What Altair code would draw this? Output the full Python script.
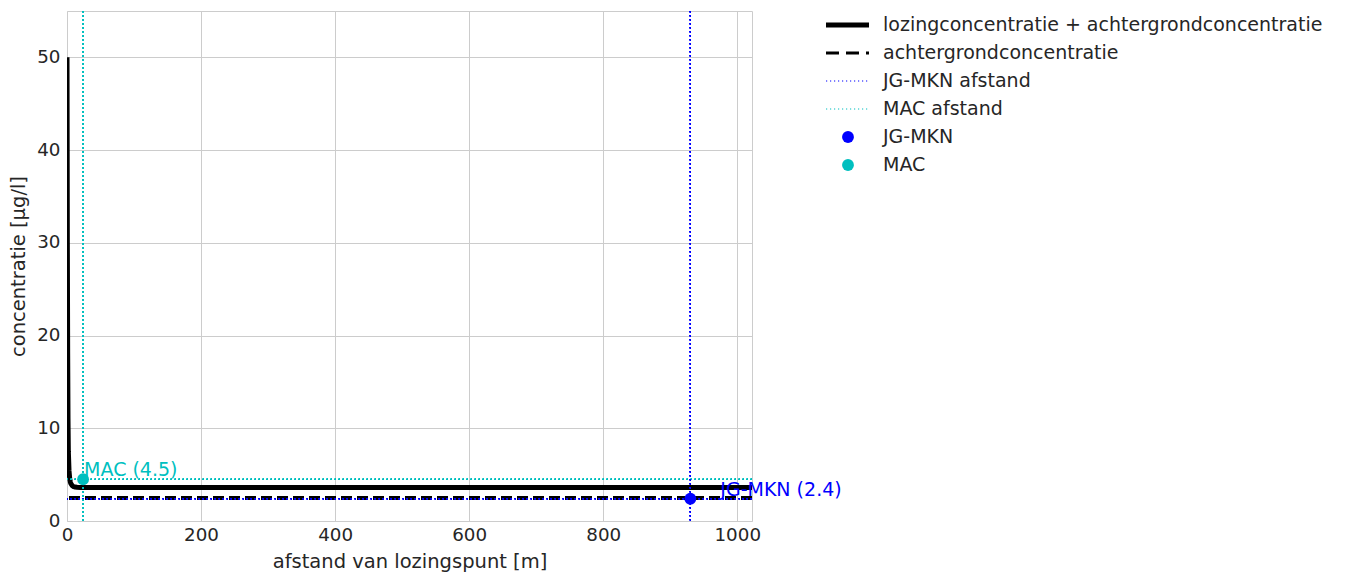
import altair as alt
import pandas as pd

# --- data ---
dist = [0, 0.5, 1, 1.5, 2, 3, 4, 5, 6, 8, 10, 12, 15, 20, 30, 50, 100, 200, 400, 600, 800, 1000, 1022]
conc = [50, 30, 18, 11, 7.5, 5.4, 4.6, 4.2, 4.0, 3.8, 3.7, 3.66, 3.63, 3.61, 3.6, 3.6, 3.6, 3.6, 3.6, 3.6, 3.6, 3.6, 3.6]
background = 2.5
jg_mkn_value = 2.4
jg_mkn_dist = 930
mac_value = 4.5
mac_dist = 24
x_ticks = [0, 200, 400, 600, 800, 1000]
y_ticks = [0, 10, 20, 30, 40, 50]
legend_labels = [
    "lozingconcentratie + achtergrondconcentratie",
    "achtergrondconcentratie",
    "JG-MKN afstand",
    "MAC afstand",
    "JG-MKN",
    "MAC",
]

BLUE = "#0000ff"
CYAN = "#00bfbf"
TXT = "#262626"
FONT = "DejaVu Sans"
DOT = [1.2, 2.8]
DOTW = 1.1

curve_df = pd.DataFrame({"afstand": dist, "conc": conc})
pts_df = pd.DataFrame({
    "afstand": [jg_mkn_dist, mac_dist],
    "conc": [jg_mkn_value, mac_value],
    "naam": ["JG-MKN", "MAC"],
})
pts_df["label"] = pts_df["naam"] + " (" + pts_df["conc"].astype(str) + ")"

xscale = alt.Scale(domain=[0, 1022], nice=False, zero=False)
yscale = alt.Scale(domain=[0, 55], nice=False)

X = alt.X("afstand:Q", scale=xscale,
          axis=alt.Axis(values=x_ticks, format="d", title="afstand van lozingspunt [m]"))
Y = alt.Y("conc:Q", scale=yscale,
          axis=alt.Axis(values=y_ticks, format="d", title="concentratie [µg/l]"))

base = alt.Chart(curve_df)

curve = base.mark_line(color="black", strokeWidth=5, clip=True,
                       strokeJoin="round").encode(x=X, y=Y)

bg_rule = base.mark_rule(color="black", strokeWidth=3, strokeDash=[11, 5]).encode(
    y=alt.datum(background))
jg_h = base.mark_rule(color=BLUE, strokeWidth=DOTW, strokeDash=DOT).encode(
    y=alt.datum(jg_mkn_value))
mac_h = base.mark_rule(color=CYAN, strokeWidth=DOTW, strokeDash=DOT).encode(
    y=alt.datum(mac_value))
jg_v = base.mark_rule(color=BLUE, strokeWidth=DOTW, strokeDash=DOT).encode(
    x=alt.datum(jg_mkn_dist))
mac_v = base.mark_rule(color=CYAN, strokeWidth=DOTW, strokeDash=DOT).encode(
    x=alt.datum(mac_dist))

pts = alt.Chart(pts_df)
jg_pt = pts.transform_filter("datum.naam == 'JG-MKN'").mark_point(
    filled=True, size=140, color=BLUE, opacity=1).encode(x=X, y=Y)
mac_pt = pts.transform_filter("datum.naam == 'MAC'").mark_point(
    filled=True, size=140, color=CYAN, opacity=1).encode(x=X, y=Y)
jg_txt = pts.transform_filter("datum.naam == 'JG-MKN'").mark_text(
    align="left", baseline="alphabetic", dx=30, dy=-3, fontSize=19, font=FONT,
    color=BLUE).encode(x=X, y=Y, text="label:N")
mac_txt = pts.transform_filter("datum.naam == 'MAC'").mark_text(
    align="left", baseline="alphabetic", dx=1, dy=-3, fontSize=19, font=FONT,
    color=CYAN).encode(x=X, y=Y, text="label:N")

main = alt.layer(
    curve, bg_rule, jg_h, mac_h, jg_v, mac_v, jg_pt, mac_pt, mac_txt, jg_txt
).properties(width=685, height=510)

# --- legend panel ---
leg_df = pd.DataFrame({"label": legend_labels})
LY = alt.Y("label:N", scale=alt.Scale(type="point", domain=legend_labels, padding=0.5),
           axis=None)
leg = alt.Chart(leg_df)


def leg_rule(name, **kw):
    return leg.transform_filter(alt.datum.label == name).mark_rule(**kw).encode(
        x=alt.value(0), x2=alt.value(43), y=LY)


def leg_point(name, color):
    return leg.transform_filter(alt.datum.label == name).mark_point(
        filled=True, size=140, color=color, opacity=1).encode(x=alt.value(22), y=LY)


leg_text = leg.mark_text(align="left", baseline="middle", fontSize=19, font=FONT,
                         color=TXT).encode(x=alt.value(57), y=LY, text="label:N")

legend = alt.layer(
    leg_rule(legend_labels[0], color="black", strokeWidth=5),
    leg_rule(legend_labels[1], color="black", strokeWidth=3, strokeDash=[13, 7]),
    leg_rule(legend_labels[2], color=BLUE, strokeWidth=DOTW, strokeDash=DOT),
    leg_rule(legend_labels[3], color=CYAN, strokeWidth=DOTW, strokeDash=DOT),
    leg_point(legend_labels[4], BLUE),
    leg_point(legend_labels[5], CYAN),
    leg_text,
).properties(width=500, height=168, view=alt.ViewBackground(stroke="transparent"))

chart = alt.hconcat(main, legend, spacing=74, bounds="flush").properties(
    padding={"left": 0, "top": 1, "right": 5, "bottom": 5}
).configure_view(stroke="#cccccc", strokeWidth=1).configure_axis(
    domain=False, ticks=False, tickSize=0, labelFlush=False, grid=True,
    gridColor="#cccccc", gridWidth=1, labelFont=FONT, titleFont=FONT,
    labelFontSize=18.3, titleFontSize=19.5, labelColor=TXT, titleColor=TXT,
    titleFontWeight="normal", labelPadding=7, titlePadding=8,
).configure_axisX(labelPadding=5, titlePadding=9)

chart.save("out.html", embed_options={"renderer": "svg", "actions": False})
